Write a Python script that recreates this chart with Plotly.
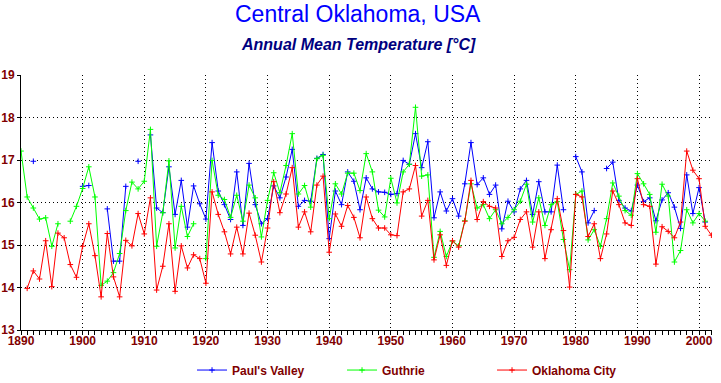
import plotly.graph_objects as go

years = list(range(1890, 2003))

N = None
pauls_valley = [
    # 1890-1899
    N, N, 16.97, N, N, N, N, N, N, N,
    # 1900-1909
    16.38, 16.40, N, N, 15.85, 14.62, 14.62, 16.38, N, 16.97,
    # 1910-1919
    N, 17.59, 15.87, 15.76, 16.84, 15.72, 16.52, 15.42, 16.39, 15.97,
    # 1920-1929
    15.61, 17.41, 16.27, 15.95, 15.60, 16.72, 15.46, 16.92, 15.95, 15.50,
    # 1930-1939
    15.62, 16.39, 16.11, 16.60, 17.25, 15.91, 16.05, 16.03, 17.04, 17.13,
    # 1940-1949
    15.15, 16.27, 15.95, 16.72, 16.50, 15.83, 16.58, 16.32, 16.25, 16.24,
    # 1950-1959
    16.19, 16.21, 16.99, 16.90, 17.62, 16.82, 17.43, 15.64, 16.25, 15.80,
    # 1960-1969
    16.09, 15.68, 16.44, 17.41, 16.42, 16.58, 16.19, 16.41, 15.38, 16.03,
    # 1970-1979
    15.78, 16.32, 16.52, 15.72, 16.49, 15.78, 15.78, 16.88, 15.83, N,
    # 1980-1989
    17.08, 16.72, 15.52, 15.81, N, 16.80, 16.95, 16.05, 15.87, 15.80,
    # 1990-1999
    16.41, 16.02, 16.11, 15.57, 16.06, 16.23, 15.89, 15.39, 16.65, 15.74,
    # 2000-2002
    16.35, 15.54, N,
]

guthrie = [
    17.21, 16.13, 15.87, 15.61, 15.64, 14.97, 15.50, N, 15.56, 15.91,
    16.33, 16.84, 16.13, 14.05, 14.15, 14.35, 14.80, 15.81, 16.48, 16.32,
    16.50, 17.72, 14.97, 15.76, 16.98, 14.93, 15.91, 15.20, 15.50, N,
    14.68, 16.99, 16.17, 16.07, 15.65, 16.17, 15.56, 16.41, 16.11, 15.19,
    16.05, 16.70, 16.23, 16.87, 17.62, 16.20, 16.40, 15.89, 17.03, 17.11,
    15.62, 16.44, 16.20, 16.69, 16.69, 16.28, 17.15, 16.72, 15.82, 15.66,
    16.57, 15.99, 16.72, 16.90, 18.24, 16.62, 16.65, 14.71, 15.32, 14.73,
    15.09, 14.98, 15.57, 16.44, 15.87, 15.95, 15.62, 15.83, 15.50, 15.65,
    15.83, 16.03, 16.43, 15.54, 16.11, 15.46, 15.95, 16.02, 15.13, 14.42,
    16.19, 16.27, 15.12, 15.36, 14.97, 15.62, 16.46, 16.15, 15.81, 15.70,
    16.68, 16.44, 16.19, 15.30, 16.43, 16.15, 14.60, 14.87, 15.83, 15.52,
    15.74, 15.56, N,
]

oklahoma_city = [
    N, 13.98, 14.39, 14.20, 15.10, 14.02, 15.28, 15.17, 14.54, 14.24,
    14.97, 15.50, 14.75, 13.78, 15.27, 14.25, 13.78, 15.11, 14.98, 15.74,
    15.26, 16.11, 13.94, 14.50, 15.50, 13.91, 14.98, 14.46, 14.77, 14.68,
    14.10, 16.25, 15.72, 15.31, 14.79, 15.42, 14.79, 15.75, 15.23, 14.60,
    15.40, 16.49, 15.76, 16.20, 16.82, 15.42, 15.78, 15.31, 16.41, 16.62,
    14.83, 15.73, 15.44, 15.93, 15.65, 15.17, 16.13, 15.62, 15.40, 15.40,
    15.24, 15.22, 16.25, 16.32, 16.87, 15.68, 16.05, 14.65, 15.24, 14.52,
    15.10, 14.95, 15.56, 16.52, 15.60, 16.02, 15.91, 15.87, 14.73, 15.10,
    15.18, 15.60, 15.78, 14.95, 15.78, 14.68, 15.36, 16.09, 15.34, 14.01,
    16.19, 16.13, 15.20, 15.50, 14.68, 15.26, 16.27, 15.95, 15.52, 15.46,
    16.56, 15.95, 15.91, 14.55, 15.43, 15.32, 15.17, 15.54, 17.21, 16.76,
    16.56, 15.44, 15.23,
]

series_names = ["Paul's Valley", "Guthrie", "Oklahoma City"]
series_colors = ["#0000FF", "#00FF00", "#FF0000"]
series_values = [pauls_valley, guthrie, oklahoma_city]

title_text = "Central Oklahoma, USA"
subtitle_text = "Annual Mean Temperature [°C]"

for v in series_values:
    assert len(v) == len(years)

fig = go.Figure()
for name, vals, color in zip(series_names, series_values, series_colors):
    fig.add_trace(go.Scatter(
        x=years, y=vals, name=name, mode="lines+markers",
        connectgaps=False,
        line=dict(color=color, width=1),
        marker=dict(symbol="cross-thin", size=4, color=color,
                    line=dict(color=color, width=1)),
    ))

tick_font = dict(family="Liberation Sans, Arial, sans-serif", size=12,
                 color="#800000", weight="bold")

fig.update_layout(
    width=721, height=383,
    margin=dict(l=21, r=9, t=75, b=53, pad=0, autoexpand=False),
    paper_bgcolor="white", plot_bgcolor="white",
    showlegend=True,
    legend=dict(orientation="h", x=0.2475, xanchor="left",
                y=-0.157, yanchor="middle",
                entrywidth=105, entrywidthmode="pixels", itemwidth=30,
                font=dict(family="Liberation Sans, Arial, sans-serif",
                          size=12, color="#800000", weight="bold"),
                bgcolor="rgba(0,0,0,0)"),
    xaxis=dict(range=[1890, 2002.1], tick0=1890, dtick=10,
               automargin=False,
               showgrid=True, gridcolor="black", gridwidth=1, griddash="1px,3px",
               showline=True, linecolor="black", linewidth=1,
               ticks="outside", ticklen=4, tickcolor="black", tickwidth=1,
               ticklabelstandoff=-4,
               minor=dict(dtick=1, tick0=1890, ticks="outside", ticklen=4,
                          tickcolor="black", tickwidth=1, showgrid=False),
               zeroline=False, tickfont=tick_font),
    yaxis=dict(range=[13, 19], tick0=13, dtick=1,
               automargin=False,
               showgrid=True, gridcolor="black", gridwidth=1, griddash="1px,3px",
               showline=True, linecolor="black", linewidth=1,
               ticks="outside", ticklen=3, tickcolor="black", tickwidth=1,
               zeroline=False, tickfont=tick_font),
    annotations=[
        dict(text=title_text, xref="paper", yref="paper", x=0.488, y=1.239,
             xanchor="center", yanchor="middle", showarrow=False,
             font=dict(family="Comic Sans MS, Liberation Sans, Arial, sans-serif",
                       size=23, color="#0000FF")),
        dict(text="<i>" + subtitle_text + "</i>", xref="paper", yref="paper",
             x=0.488, y=1.118, xanchor="center", yanchor="middle", showarrow=False,
             font=dict(family="Liberation Sans, Arial, sans-serif", size=16,
                       color="#000080", weight="bold")),
    ],
)

fig.write_html("out.html",
               config={"displayModeBar": False},
               post_script="document.body.style.margin='0';document.body.style.overflow='hidden';")
